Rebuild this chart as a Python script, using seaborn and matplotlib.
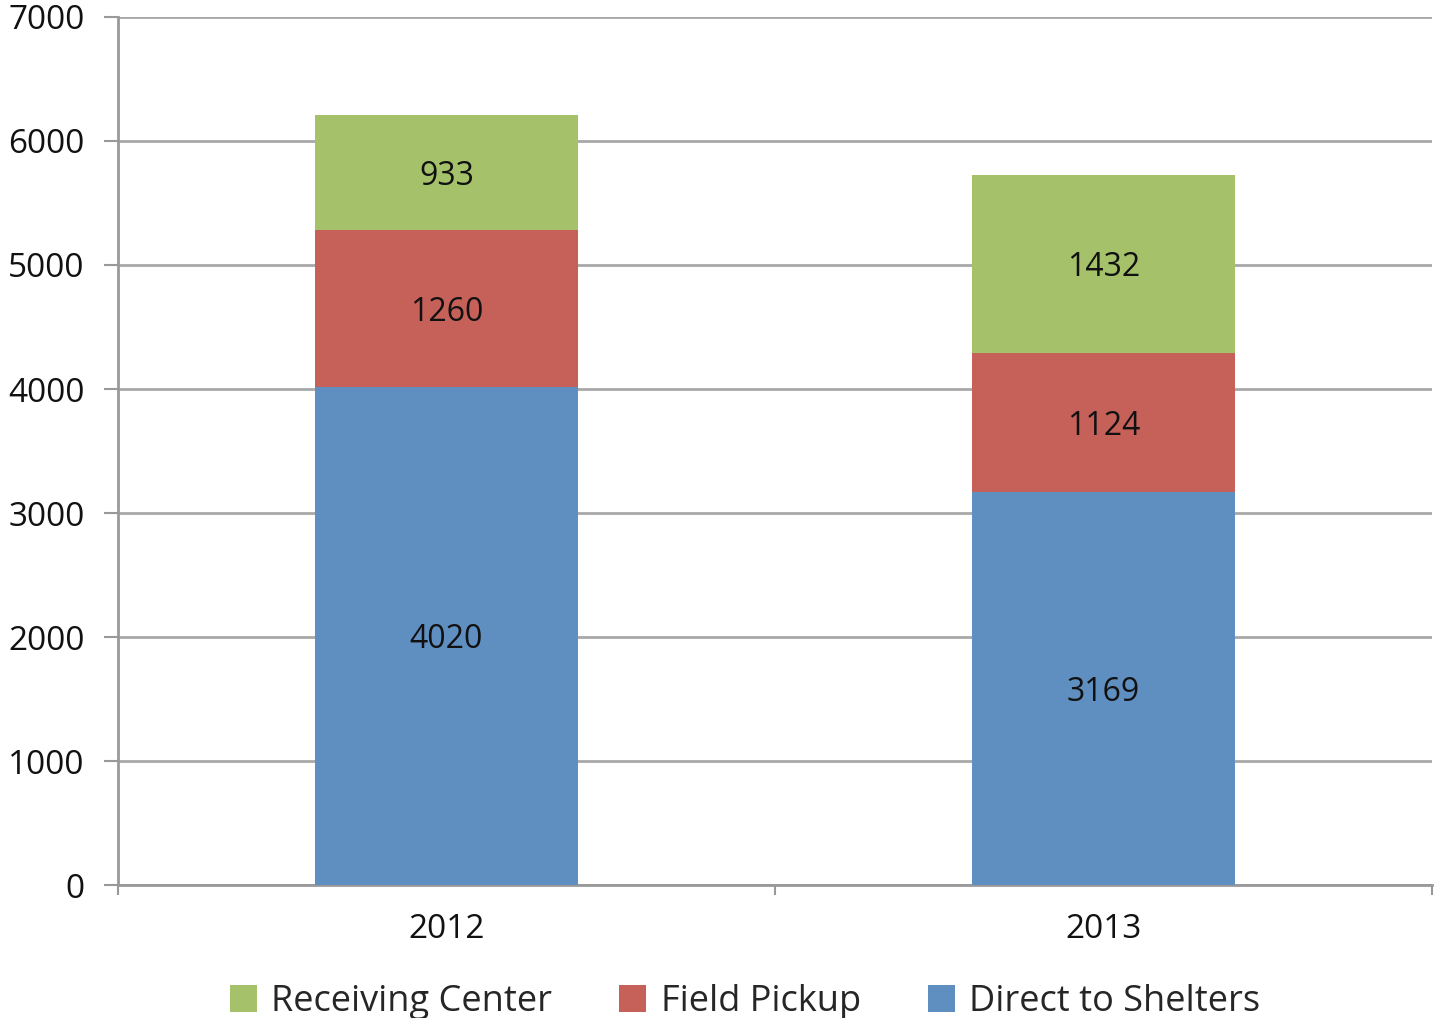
import matplotlib
matplotlib.use("Agg")
import matplotlib.pyplot as plt
import seaborn as sns
import pandas as pd
import numpy as np

years = ["2012", "2013"]
direct_to_shelters = [4020, 3169]
field_pickup = [1260, 1124]
receiving_center = [933, 1432]
y_ticks = [0, 1000, 2000, 3000, 4000, 5000, 6000, 7000]

c_blue = "#5F8FC1"
c_red = "#C6615A"
c_green = "#A5C26B"

sns.set_theme(style="white")
plt.rcParams["font.family"] = ["Open Sans", "DejaVu Sans"]

fig = plt.figure(figsize=(14.37, 10.18), dpi=100)
ax = fig.add_axes([118/1437, 1-885/1018, (1432-118)/1437, (885-17)/1018])

d = np.array(direct_to_shelters)
f = np.array(field_pickup)
r = np.array(receiving_center)

df = pd.DataFrame({"year": years, "total": d + f + r, "df": d + f, "d": d})

kw = dict(saturation=1, width=0.4, ax=ax, zorder=3, linewidth=0, edgecolor="none")
sns.barplot(data=df, x="year", y="total", color=c_green, label="Receiving Center", **kw)
sns.barplot(data=df, x="year", y="df", color=c_red, label="Field Pickup", **kw)
sns.barplot(data=df, x="year", y="d", color=c_blue, label="Direct to Shelters", **kw)

for i in range(len(years)):
    segs = [(0, d[i]), (d[i], f[i]), (d[i] + f[i], r[i])]
    for base, val in segs:
        ax.text(i, base + val / 2, f"{val}", ha="center", va="center_baseline", fontsize=23, color="#111111", zorder=5)

ax.set_ylim(0, 7000)
ax.set_xlim(-0.5, 1.5)
ax.set_yticks(y_ticks)
ax.set_yticklabels([str(t) for t in y_ticks], fontsize=24, color="#111111")
ax.set_xlabel("")
ax.set_ylabel("")
ax.tick_params(axis="x", labelsize=24, labelcolor="#111111", length=0, pad=20)
ax.set_xticks([-0.5, 0.5, 1.5], minor=True)
ax.tick_params(axis="x", which="minor", length=7, width=1.5, color="#999999", direction="out", bottom=True)
ax.tick_params(axis="y", length=10, width=1.5, color="#999999", direction="out", left=True, pad=14)

ax.yaxis.grid(True, color="#A8A8A8", linewidth=2)
ax.set_axisbelow(True)
for s in ["top", "right"]:
    ax.spines[s].set_visible(False)
for s in ["left", "bottom"]:
    ax.spines[s].set_color("#999999")
    ax.spines[s].set_linewidth(2)

handles, labels = ax.get_legend_handles_labels()
if ax.get_legend() is not None:
    ax.get_legend().remove()
fig.legend(handles, labels, loc="center", bbox_to_anchor=(745/1437, 1-1002/1018), ncol=3,
           frameon=False, fontsize=26, handlelength=0.75, handleheight=0.75,
           handletextpad=0.4, columnspacing=1.85)

fig.savefig("out.png", dpi=100)
